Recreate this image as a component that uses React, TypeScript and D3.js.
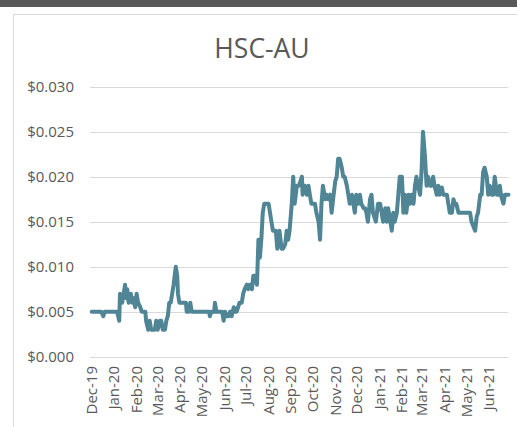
import React from 'react';
import * as d3 from 'd3';

// daily close (sampled), HSC-AU
const prices: [string, number][] = [
  ['2019-12-01', 0.005], ['2019-12-14', 0.005], ['2019-12-17', 0.0045], ['2019-12-19', 0.005],
  ['2020-01-05', 0.005], ['2020-01-08', 0.004], ['2020-01-09', 0.007], ['2020-01-12', 0.006],
  ['2020-01-14', 0.007], ['2020-01-16', 0.008], ['2020-01-18', 0.0065], ['2020-01-19', 0.0075],
  ['2020-01-21', 0.006], ['2020-01-24', 0.007], ['2020-01-26', 0.006], ['2020-01-28', 0.0065],
  ['2020-01-30', 0.0055], ['2020-02-01', 0.007], ['2020-02-03', 0.006], ['2020-02-06', 0.0055],
  ['2020-02-08', 0.005], ['2020-02-13', 0.005], ['2020-02-14', 0.004], ['2020-02-17', 0.003],
  ['2020-02-19', 0.004], ['2020-02-21', 0.003], ['2020-02-26', 0.003], ['2020-02-28', 0.004],
  ['2020-03-01', 0.003], ['2020-03-04', 0.004], ['2020-03-06', 0.004], ['2020-03-08', 0.003],
  ['2020-03-11', 0.003], ['2020-03-13', 0.004], ['2020-03-15', 0.0045], ['2020-03-17', 0.006],
  ['2020-03-19', 0.006], ['2020-03-21', 0.007], ['2020-03-23', 0.008], ['2020-03-26', 0.010],
  ['2020-03-28', 0.009], ['2020-03-29', 0.007], ['2020-03-31', 0.006], ['2020-04-09', 0.006],
  ['2020-04-10', 0.005], ['2020-04-13', 0.005], ['2020-04-15', 0.006], ['2020-04-17', 0.005],
  ['2020-05-11', 0.005], ['2020-05-12', 0.0045], ['2020-05-14', 0.005], ['2020-05-18', 0.005],
  ['2020-05-19', 0.006], ['2020-05-21', 0.005], ['2020-05-29', 0.005], ['2020-05-31', 0.004],
  ['2020-06-02', 0.005], ['2020-06-04', 0.0045], ['2020-06-07', 0.0045], ['2020-06-09', 0.005],
  ['2020-06-11', 0.0045], ['2020-06-14', 0.0055], ['2020-06-16', 0.005], ['2020-06-18', 0.005],
  ['2020-06-22', 0.006], ['2020-06-25', 0.006], ['2020-06-27', 0.007], ['2020-06-29', 0.0075],
  ['2020-07-02', 0.008], ['2020-07-04', 0.0075], ['2020-07-06', 0.008], ['2020-07-09', 0.0075],
  ['2020-07-11', 0.009], ['2020-07-13', 0.009], ['2020-07-16', 0.008], ['2020-07-17', 0.0105],
  ['2020-07-18', 0.013], ['2020-07-20', 0.011], ['2020-07-22', 0.013], ['2020-07-24', 0.016],
  ['2020-07-26', 0.017], ['2020-07-28', 0.017], ['2020-08-01', 0.017], ['2020-08-03', 0.016],
  ['2020-08-05', 0.015], ['2020-08-07', 0.014], ['2020-08-11', 0.014], ['2020-08-13', 0.012],
  ['2020-08-16', 0.014], ['2020-08-19', 0.012], ['2020-08-21', 0.012], ['2020-08-24', 0.0125],
  ['2020-08-26', 0.014], ['2020-08-28', 0.013], ['2020-08-30', 0.014], ['2020-09-02', 0.017],
  ['2020-09-04', 0.020], ['2020-09-06', 0.017], ['2020-09-09', 0.019], ['2020-09-12', 0.019],
  ['2020-09-16', 0.020], ['2020-09-17', 0.018], ['2020-09-20', 0.019], ['2020-09-23', 0.018],
  ['2020-09-25', 0.019], ['2020-09-27', 0.018], ['2020-09-29', 0.017], ['2020-10-04', 0.017],
  ['2020-10-06', 0.016], ['2020-10-09', 0.015], ['2020-10-11', 0.013], ['2020-10-13', 0.017],
  ['2020-10-15', 0.019], ['2020-10-18', 0.0175], ['2020-10-20', 0.018], ['2020-10-22', 0.0175],
  ['2020-10-25', 0.018], ['2020-10-27', 0.016], ['2020-10-29', 0.0175], ['2020-11-01', 0.0195],
  ['2020-11-03', 0.020], ['2020-11-05', 0.022], ['2020-11-07', 0.022], ['2020-11-10', 0.021],
  ['2020-11-12', 0.020], ['2020-11-14', 0.020], ['2020-11-17', 0.019], ['2020-11-19', 0.018],
  ['2020-11-21', 0.017], ['2020-11-24', 0.018], ['2020-11-26', 0.017], ['2020-11-28', 0.016],
  ['2020-11-30', 0.018], ['2020-12-03', 0.017], ['2020-12-05', 0.018], ['2020-12-07', 0.017],
  ['2020-12-10', 0.0165], ['2020-12-12', 0.0165], ['2020-12-14', 0.016], ['2020-12-16', 0.015],
  ['2020-12-19', 0.0175], ['2020-12-21', 0.018], ['2020-12-23', 0.016], ['2020-12-27', 0.015],
  ['2020-12-30', 0.017], ['2021-01-02', 0.017], ['2021-01-04', 0.016], ['2021-01-06', 0.015],
  ['2021-01-09', 0.0165], ['2021-01-11', 0.015], ['2021-01-13', 0.0165], ['2021-01-15', 0.0155],
  ['2021-01-18', 0.014], ['2021-01-20', 0.016], ['2021-01-22', 0.015], ['2021-01-25', 0.016],
  ['2021-01-27', 0.018], ['2021-01-29', 0.020], ['2021-02-01', 0.020], ['2021-02-03', 0.016],
  ['2021-02-05', 0.018], ['2021-02-07', 0.016], ['2021-02-10', 0.018], ['2021-02-12', 0.017],
  ['2021-02-14', 0.018], ['2021-02-17', 0.017], ['2021-02-19', 0.019], ['2021-02-21', 0.020],
  ['2021-02-23', 0.019], ['2021-02-26', 0.018], ['2021-02-28', 0.0205], ['2021-03-02', 0.025],
  ['2021-03-05', 0.022], ['2021-03-07', 0.019], ['2021-03-09', 0.020], ['2021-03-12', 0.019],
  ['2021-03-14', 0.019], ['2021-03-16', 0.020], ['2021-03-18', 0.019], ['2021-03-21', 0.018],
  ['2021-03-23', 0.019], ['2021-03-25', 0.018], ['2021-03-28', 0.0188], ['2021-03-30', 0.018],
  ['2021-04-04', 0.018], ['2021-04-06', 0.017], ['2021-04-08', 0.016], ['2021-04-11', 0.016],
  ['2021-04-13', 0.0175], ['2021-04-15', 0.017], ['2021-04-17', 0.017], ['2021-04-20', 0.016],
  ['2021-05-06', 0.016], ['2021-05-08', 0.015], ['2021-05-13', 0.014], ['2021-05-15', 0.0155],
  ['2021-05-17', 0.016], ['2021-05-20', 0.018], ['2021-05-22', 0.018], ['2021-05-24', 0.0205],
  ['2021-05-26', 0.021], ['2021-05-29', 0.020], ['2021-05-31', 0.018], ['2021-06-02', 0.019],
  ['2021-06-05', 0.018], ['2021-06-07', 0.018], ['2021-06-09', 0.020], ['2021-06-12', 0.018],
  ['2021-06-14', 0.018], ['2021-06-16', 0.019], ['2021-06-18', 0.0178], ['2021-06-21', 0.017],
  ['2021-06-23', 0.018], ['2021-06-25', 0.018], ['2021-06-28', 0.018],
];

const monthTicks = [
  '2019-12-01', '2020-01-01', '2020-02-01', '2020-03-01', '2020-04-01', '2020-05-01',
  '2020-06-01', '2020-07-01', '2020-08-01', '2020-09-01', '2020-10-01', '2020-11-01',
  '2020-12-01', '2021-01-01', '2021-02-01', '2021-03-01', '2021-04-01', '2021-05-01',
  '2021-06-01',
];

const yTicks = [0, 0.005, 0.01, 0.015, 0.02, 0.025, 0.03];

const W = 517;
const H = 427;
const textColor = '#595959';
const gridColor = '#d9d9d9';
const lineColor = '#4f8595';
const font = '"Open Sans", sans-serif';

const parse = d3.timeParse('%Y-%m-%d');
const fmtMonth = d3.timeFormat('%b-%y');
const fmtPrice = (v: number) => '$' + d3.format('.3f')(v);

export default function App() {
  const data = prices.map(([d, v]) => ({ date: parse(d) as Date, value: v }));

  const x = d3.scaleTime()
    .domain([parse('2019-12-01') as Date, parse('2021-06-28') as Date])
    .range([91.7, 508.5]);

  const y = d3.scaleLinear().domain([0, 0.03]).range([356.7, 86.7]);

  const line = d3.line<{ date: Date; value: number }>()
    .x(d => x(d.date))
    .y(d => y(d.value));

  return (
    <svg width={W} height={H} style={{ position: 'absolute', left: 0, top: 0, background: '#fff' }}>
      <rect x={0} y={0} width={W} height={7} fill="#595959" />
      <rect x={13.5} y={14.5} width={W + 20} height={H + 20} fill="#fff" stroke={gridColor} strokeWidth={1} />

      <text x={262} y={58} textAnchor="middle" fontFamily={font} fontSize={26.5} fill={textColor}>
        HSC-AU
      </text>

      {/* gridlines + y labels */}
      {yTicks.map(t => (
        <g key={t}>
          <line x1={90} x2={508} y1={Math.round(y(t)) + 0.5} y2={Math.round(y(t)) + 0.5} stroke={gridColor} strokeWidth={1} />
          <text x={74} y={y(t)} dy="0.35em" textAnchor="end" fontFamily={font} fontSize={15} fill={textColor}>
            {fmtPrice(t)}
          </text>
        </g>
      ))}

      {/* month labels */}
      {monthTicks.map(m => {
        const d = parse(m) as Date;
        const px = x(d);
        return (
          <text
            key={m}
            transform={`translate(${px},366) rotate(-90)`}
            dy="0.35em"
            textAnchor="end"
            fontFamily={font}
            fontSize={15}
            fill={textColor}
          >
            {fmtMonth(d)}
          </text>
        );
      })}

      <path
        d={line(data) || ''}
        fill="none"
        stroke={lineColor}
        strokeWidth={4}
        strokeLinejoin="round"
        strokeLinecap="round"
      />
    </svg>
  );
}
